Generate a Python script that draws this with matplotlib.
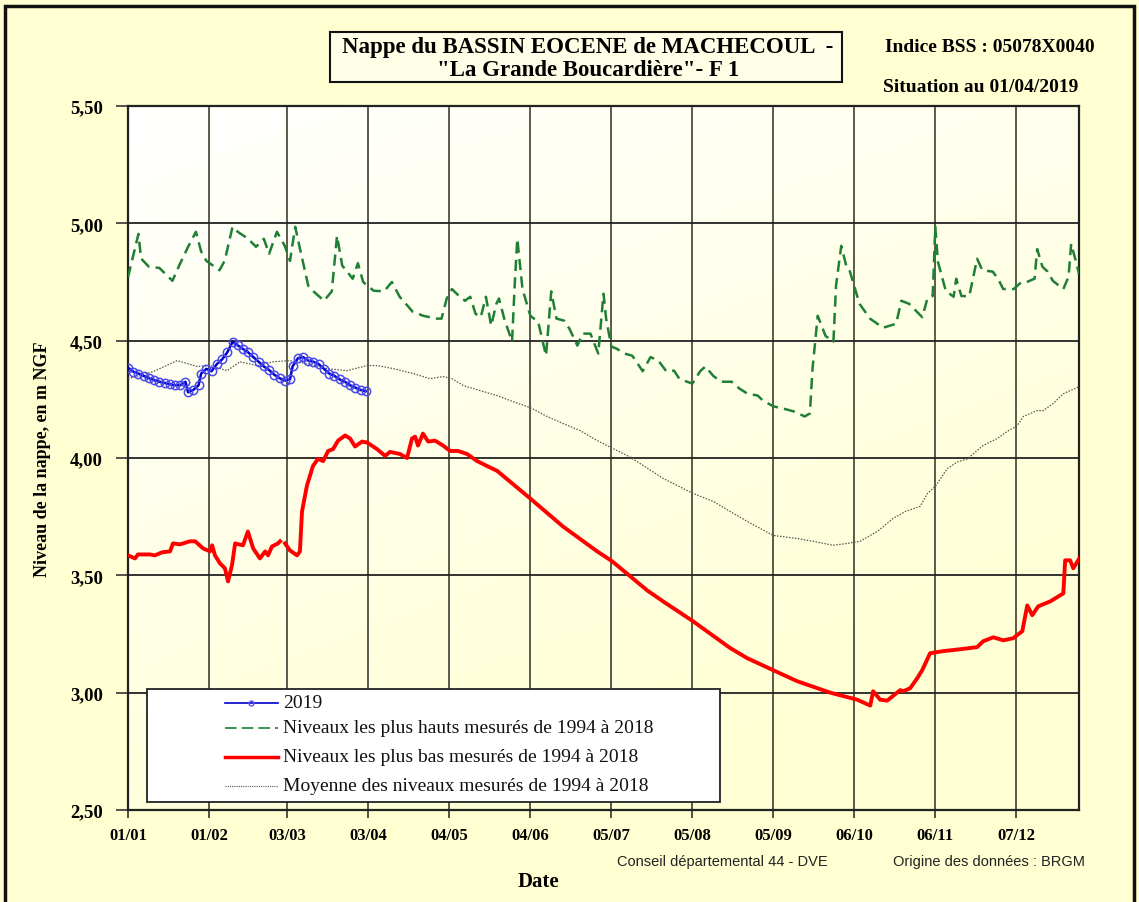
import numpy as np
import matplotlib
matplotlib.use("Agg")
import matplotlib.pyplot as plt
from matplotlib.patches import Rectangle
from matplotlib.lines import Line2D
from datetime import date

# ---------------- data ----------------
tick_labels = ['01/01', '01/02', '03/03', '03/04', '04/05', '04/06',
               '05/07', '05/08', '05/09', '06/10', '06/11', '07/12']
ytick_values = [2.5, 3.0, 3.5, 4.0, 4.5, 5.0, 5.5]

# day-of-year (0 = 1 Jan) and level (m NGF)
max_days = [0, 4, 5, 8, 12, 17, 20, 23, 26, 28, 30, 35, 37, 40, 42, 46, 49, 52, 54, 57,
            60, 62, 64, 66, 69, 71, 75, 78, 80, 82, 86, 88, 90, 94, 98, 101, 104, 109, 113,
            118, 120, 122, 124, 127, 129, 131, 133, 135, 137, 139, 141, 142, 144, 147, 148,
            149, 151, 154, 157, 160, 162, 164, 167, 169, 172, 174, 177, 180, 182, 183, 185,
            187, 190, 193, 197, 200, 203, 206, 209, 211, 214, 216, 219, 221, 224, 227, 231,
            234, 237, 241, 243, 247, 251, 255, 259, 261, 262, 264, 267, 270, 271, 273, 275,
            276, 280, 284, 289, 294, 296, 299, 304, 306, 308, 309, 310, 313, 316, 317, 319,
            322, 325, 327, 331, 333, 335, 339, 342, 344, 347, 348, 350, 352, 354, 358, 360,
            361, 363, 364]
max_vals = [4.77, 4.955, 4.85, 4.815, 4.81, 4.755, 4.83, 4.90, 4.964, 4.88, 4.84, 4.80,
            4.84, 4.985, 4.964, 4.934, 4.90, 4.934, 4.87, 4.964, 4.904, 4.84, 4.985, 4.883,
            4.734, 4.71, 4.67, 4.71, 4.947, 4.82, 4.764, 4.83, 4.75, 4.713, 4.71, 4.75, 4.687,
            4.623, 4.606, 4.594, 4.594, 4.68, 4.72, 4.687, 4.67, 4.687, 4.615, 4.60, 4.687,
            4.564, 4.657, 4.68, 4.594, 4.496, 4.734, 4.934, 4.72, 4.606, 4.58, 4.436, 4.71,
            4.594, 4.585, 4.55, 4.479, 4.53, 4.53, 4.445, 4.70, 4.594, 4.475, 4.466, 4.445,
            4.436, 4.37, 4.43, 4.415, 4.37, 4.372, 4.338, 4.325, 4.317, 4.37, 4.39, 4.35,
            4.325, 4.325, 4.296, 4.275, 4.266, 4.245, 4.22, 4.21, 4.198, 4.177, 4.19, 4.38,
            4.606, 4.52, 4.496, 4.734, 4.904, 4.815, 4.806, 4.657, 4.594, 4.555, 4.572, 4.67,
            4.657, 4.60, 4.68, 4.69, 4.985, 4.836, 4.713, 4.687, 4.764, 4.69, 4.69, 4.849,
            4.80, 4.794, 4.764, 4.72, 4.72, 4.75, 4.75, 4.764, 4.89, 4.815, 4.794, 4.755,
            4.72, 4.772, 4.913, 4.83, 4.785]

min_days = [0, 2.7, 3.8, 8.4, 10.3, 13.0, 16.1, 17.2, 19.9, 23.7, 25.7, 28.7, 31.4, 32.2,
            33.3, 35.2, 37.1, 38.3, 39.8, 41.0, 44.0, 45.9, 47.9, 50.5, 52.5, 53.6, 55.1,
            57.4, 58.2, 59.2, 60.1, 62.0, 64.7, 65.8, 66.6, 68.5, 70.8, 72.7, 74.7, 76.6,
            78.5, 80.4, 83.1, 85.0, 86.9, 89.6, 91.5, 95.3, 98.4, 100.3, 104.1, 106.8, 108.7,
            109.9, 111.0, 112.9, 114.9, 117.5, 120.6, 123.3, 126.3, 129.8, 133.6, 137.4,
            141.3, 153.9, 166.5, 179.6, 185.3, 198.7, 204.8, 216.3, 230.5, 237.0, 246.9,
            256.1, 268.8, 279.1, 284.1, 285.2, 287.9, 290.6, 292.9, 295.6, 296.7, 299.4,
            302.1, 304.0, 307.0, 312.0, 318.5, 325.0, 327.3, 331.2, 335.0, 338.8, 342.3,
            344.2, 346.1, 348.4, 353.0, 358.0, 358.7, 360.6, 361.8, 364.1]
min_vals = [3.585, 3.572, 3.589, 3.589, 3.585, 3.598, 3.602, 3.636, 3.632, 3.645, 3.645,
            3.615, 3.602, 3.628, 3.585, 3.551, 3.53, 3.474, 3.543, 3.636, 3.628, 3.687,
            3.615, 3.572, 3.602, 3.585, 3.623, 3.636, 3.645, np.nan, 3.636, 3.606, 3.585,
            3.602, 3.772, 3.883, 3.966, 3.996, 3.987, 4.03, 4.038, 4.074, 4.096, 4.083,
            4.049, 4.07, 4.066, 4.038, 4.009, 4.026, 4.017, 4.00, 4.083, 4.091, 4.053,
            4.104, 4.07, 4.074, 4.053, 4.03, 4.03, 4.017, 3.987, 3.966, 3.945, 3.828,
            3.708, 3.602, 3.56, 3.436, 3.389, 3.304, 3.19, 3.147, 3.096, 3.049, 3.0, 2.970,
            2.945, 3.006, 2.970, 2.966, 2.987, 3.011, 3.006, 3.019, 3.062, 3.096, 3.168,
            3.177, 3.185, 3.194, 3.219, 3.236, 3.223, 3.232, 3.262, 3.372, 3.330, 3.368,
            3.389, 3.423, 3.564, 3.564, 3.53, 3.572]

mean_days = [0, 9.6, 18.8, 26.4, 31.4, 37.9, 42.9, 49.4, 55.5, 62.0, 68.5, 76.2, 83.8,
             91.5, 95.3, 101.5, 109.1, 115.6, 120.6, 124.0, 128.3, 134.8, 141.3, 147.4,
             153.9, 160.4, 166.5, 173.0, 179.6, 185.7, 192.2, 204.8, 216.3, 224.0, 230.5,
             237.0, 246.9, 256.1, 262.3, 269.9, 275.3, 280.2, 286.8, 292.9, 297.5, 303.2,
             306.0, 309.0, 313.6, 317.4, 321.2, 327.3, 332.7, 336.5, 340.4, 342.7, 348.0,
             350.3, 354.1, 358.0, 364.1]
mean_vals = [4.338, 4.368, 4.415, 4.39, 4.394, 4.372, 4.41, 4.394, 4.41, 4.415, 4.402,
             4.381, 4.372, 4.394, 4.394, 4.381, 4.36, 4.338, 4.347, 4.338, 4.309, 4.287,
             4.266, 4.24, 4.215, 4.177, 4.147, 4.117, 4.074, 4.04, 4.004, 3.913, 3.849,
             3.815, 3.772, 3.730, 3.670, 3.657, 3.645, 3.628, 3.636, 3.645, 3.687, 3.743,
             3.772, 3.794, 3.849, 3.879, 3.955, 3.983, 3.996, 4.053, 4.083, 4.113, 4.138,
             4.177, 4.202, 4.202, 4.232, 4.274, 4.304]

y2019_days = [0, 2, 4, 6, 8, 10, 12, 14, 16, 18, 20, 22, 23, 25, 27, 28, 30, 32, 34, 36,
              38, 40, 42, 44, 46, 48, 50, 52, 54, 56, 58, 60, 62, 63, 65, 67, 69, 71, 73,
              75, 77, 79, 81, 83, 85, 87, 89, 91]
y2019_vals = [4.385, 4.368, 4.36, 4.35, 4.34, 4.332, 4.325, 4.32, 4.315, 4.31, 4.31,
              4.325, 4.28, 4.29, 4.31, 4.36, 4.38, 4.37, 4.40, 4.42, 4.45, 4.495, 4.48,
              4.465, 4.45, 4.43, 4.41, 4.39, 4.375, 4.355, 4.34, 4.33, 4.335, 4.39, 4.425,
              4.43, 4.415, 4.41, 4.40, 4.38, 4.36, 4.35, 4.335, 4.325, 4.31, 4.30, 4.29,
              4.285]

legend_labels = ['2019',
                 'Niveaux les plus hauts mesurés de 1994 à 2018',
                 'Niveaux les plus bas mesurés de 1994 à 2018',
                 'Moyenne des niveaux mesurés de 1994 à 2018']

# ---------------- styling ----------------
SERIF = 'Liberation Serif'
SANS = 'Liberation Sans'
BG = '#FFFFD2'
C_BLUE = '#0000CC'
C_GREEN = '#1F7F34'
C_RED = '#FF0000'
C_MEAN = '#555555'

W, H = 1139, 903
fig = plt.figure(figsize=(W / 100, H / 100), dpi=100, facecolor=BG)

def fx(px):
    return px / W

def fy(py):
    return 1 - py / H

ax_l, ax_r, ax_t, ax_b = 128, 1079, 107, 811
ax = fig.add_axes([fx(ax_l), fy(ax_b), (ax_r - ax_l) / W, (ax_b - ax_t) / H])
ax.set_facecolor('white')

# soft gradient background in plot area
gy = np.linspace(0, 1, 200)[:, None]
gx = np.linspace(0, 1, 200)[None, :]
t = np.clip(0.8 * gy + 0.4 * gx, 0, 1)  # 0 top-left -> 1 bottom-right
top = np.array([1.0, 1.0, 1.0])
bot = np.array([1.0, 1.0, 0.83])
img = top[None, None, :] * (1 - t[..., None]) + bot[None, None, :] * t[..., None]
ax.imshow(img, extent=[0, 1, 0, 1], transform=ax.transAxes, aspect='auto',
          zorder=0, interpolation='bilinear')

tick_days = [date(2019, int(s[3:]), int(s[:2])).timetuple().tm_yday - 1 for s in tick_labels]

# grid
for d in tick_days[1:]:
    ax.axvline(d, color='#5a5a4a', lw=1.4, zorder=1)
for v in ytick_values[1:-1]:
    ax.axhline(v, color='#222222', lw=1.3, zorder=1)

# series
ax.plot(mean_days, mean_vals, color=C_MEAN, lw=0.9, ls=(0, (1.2, 1.2)), zorder=3)
ax.plot(min_days, min_vals, color=C_RED, lw=2.8, zorder=4, solid_joinstyle='round')
ax.plot(max_days, max_vals, color=C_GREEN, lw=1.8, ls=(0, (4.5, 2.5)), zorder=4)
ax.plot(y2019_days, y2019_vals, color=C_BLUE, lw=1.8, marker='o', ms=6,
        mfc='none', mec='#4a4aEE', mew=1.1, zorder=5)

ax.set_xlim(0, 364)
ax.set_ylim(2.5, 5.5)
ax.set_xticks(tick_days)
ax.set_xticklabels(tick_labels, fontfamily=SERIF, fontweight='bold', fontsize=12)
ax.set_yticks(ytick_values)
ax.set_yticklabels([f'{v:.2f}'.replace('.', ',') for v in ytick_values],
                   fontfamily=SERIF, fontweight='bold', fontsize=13.5)
ax.tick_params(axis='y', direction='out', length=9, width=1.2, pad=9, color='#333333')
ax.tick_params(axis='x', direction='out', length=6, width=1.2, pad=6, color='#333333')
for s in ax.spines.values():
    s.set_color('#222222')
    s.set_linewidth(1.6)

ax.set_ylabel('Niveau de la nappe, en m NGF', fontfamily=SERIF, fontweight='bold',
              fontsize=13, labelpad=14)

# legend (manual, boxed)
lx0, lx1, ly0, ly1 = 147, 720, 690, 803
def axx(px):
    return (px - ax_l) / (ax_r - ax_l)
def axy(py):
    return (ax_b - py) / (ax_b - ax_t)
ax.add_patch(Rectangle((axx(lx0), axy(ly1)), axx(lx1) - axx(lx0), axy(ly0) - axy(ly1),
                       transform=ax.transAxes, facecolor='white', edgecolor='#222222',
                       lw=1.3, zorder=8))
rows = [704, 729, 758, 787]
styles = [dict(color=C_BLUE, lw=1.2, marker='o', ms=3.5, mfc='none', mec='#5555EE',
               markevery=[1]),
          dict(color=C_GREEN, lw=1.2, ls=(0, (7, 3))),
          dict(color=C_RED, lw=2.5),
          dict(color=C_MEAN, lw=0.8, ls=(0, (1, 1)))]
for r, st, lab in zip(rows, styles, legend_labels):
    yy = axy(r)
    ax.add_line(Line2D([axx(225), axx(251), axx(278)], [yy, yy, yy],
                       transform=ax.transAxes, zorder=9, **st))
    ax.text(axx(283), yy, lab, transform=ax.transAxes, fontfamily=SERIF, fontsize=14,
            va='center', ha='left', color='#111111', zorder=9)

# title box
fig.patches.append(Rectangle((fx(330), fy(83)), fx(842) - fx(330), fy(33) - fy(83),
                             transform=fig.transFigure, facecolor='#FFFFE8',
                             edgecolor='#111111', lw=1.5))
fig.text(fx(588), fy(47), 'Nappe du BASSIN EOCENE de MACHECOUL  -', fontfamily=SERIF,
         fontweight='bold', fontsize=16.5, ha='center', va='center')
fig.text(fx(588), fy(70), '"La Grande Boucardière"- F 1', fontfamily=SERIF,
         fontweight='bold', fontsize=16.5, ha='center', va='center')
fig.text(fx(990), fy(47), 'Indice BSS : 05078X0040', fontfamily=SERIF,
         fontweight='bold', fontsize=14, ha='center', va='center')
fig.text(fx(981), fy(88), 'Situation au 01/04/2019', fontfamily=SERIF,
         fontweight='bold', fontsize=14, ha='center', va='center')

# footer
fig.text(fx(538), fy(882), 'Date', fontfamily=SERIF, fontweight='bold', fontsize=15,
         ha='center', va='center')
fig.text(fx(617), fy(862), 'Conseil départemental 44 - DVE', fontfamily=SANS,
         fontsize=10.5, ha='left', va='center', color='#222222')
fig.text(fx(893), fy(862), 'Origine des données : BRGM', fontfamily=SANS,
         fontsize=10.5, ha='left', va='center', color='#222222')

# outer border
fig.patches.append(Rectangle((fx(5), fy(906)), fx(1134) - fx(5), fy(7) - fy(906),
                             transform=fig.transFigure, facecolor='none',
                             edgecolor='#111111', lw=2.5))

fig.savefig('out.png', dpi=100, facecolor=BG)
